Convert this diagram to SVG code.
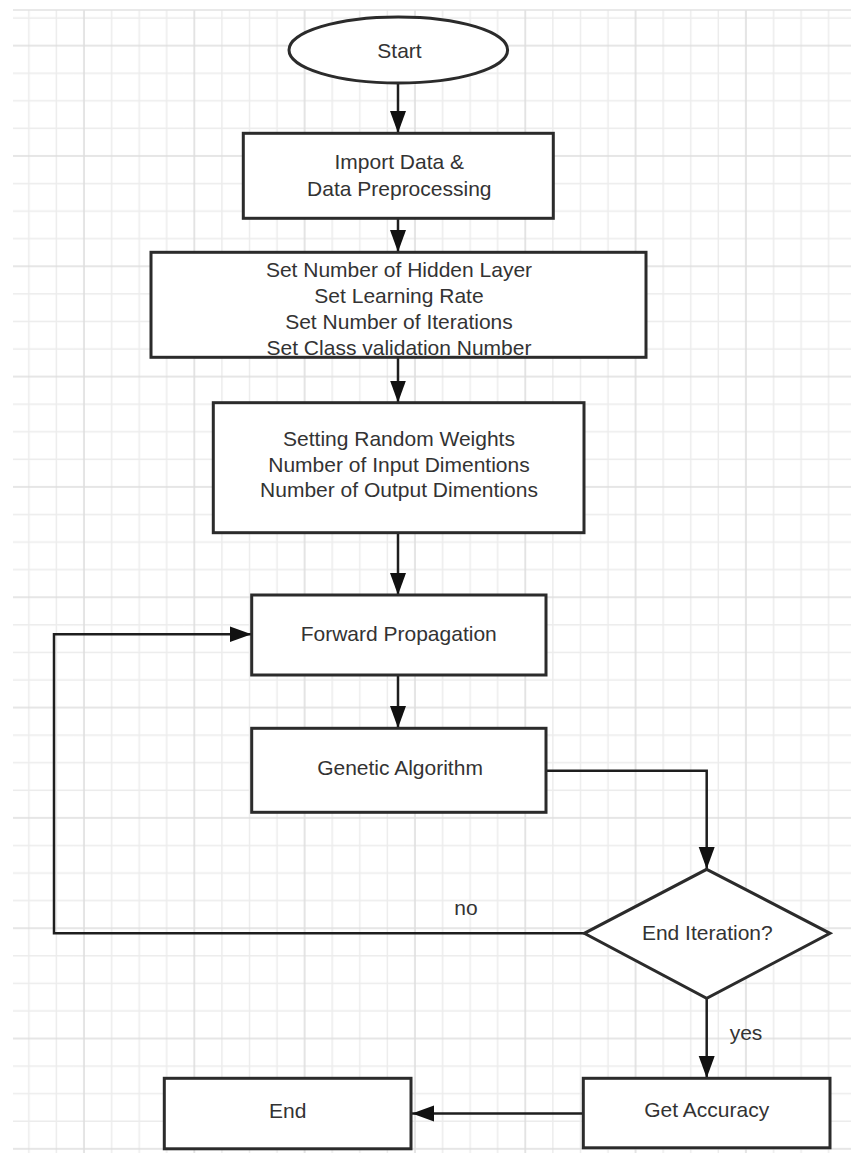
<svg xmlns="http://www.w3.org/2000/svg" width="851" height="1153" viewBox="0 0 851 1153">
  <style>
    .box { fill: #ffffff; stroke: #2b2b2b; stroke-width: 3; }
    .lbl { font-family: "Liberation Sans", Arial, sans-serif; font-size: 21px; fill: #333333; text-anchor: middle; }
    .edge { fill: none; stroke: #1e1e1e; stroke-width: 2.5; }
  </style>
  <defs>
    <marker id="arrow" markerUnits="userSpaceOnUse" markerWidth="24" markerHeight="18" refX="22" refY="8" orient="auto">
      <path d="M0,0 L22,8 L0,16 Z" fill="#111111"/>
    </marker>
    <pattern id="grid" patternUnits="userSpaceOnUse" x="74" y="35.7" width="110.32" height="110.32">
      <g stroke="#ececec" stroke-width="1.5">
        <line x1="37.58" y1="0" x2="37.58" y2="110.32"/>
        <line x1="65.16" y1="0" x2="65.16" y2="110.32"/>
        <line x1="92.74" y1="0" x2="92.74" y2="110.32"/>
        <line x1="0" y1="37.58" x2="110.32" y2="37.58"/>
        <line x1="0" y1="65.16" x2="110.32" y2="65.16"/>
        <line x1="0" y1="92.74" x2="110.32" y2="92.74"/>
      </g>
      <g stroke="#dedede" stroke-width="1.6">
        <line x1="10" y1="0" x2="10" y2="110.32"/>
        <line x1="0" y1="10" x2="110.32" y2="10"/>
      </g>
    </pattern>
  </defs>

  <rect x="0" y="0" width="851" height="1153" fill="#ffffff"/>
  <rect x="13" y="10" width="838" height="1143" fill="url(#grid)"/>
  <line x1="13" y1="10" x2="851" y2="10" stroke="#e2e2e2" stroke-width="1.5"/>

  <g id="connectors">
    <line class="edge" x1="398" y1="83" x2="398" y2="133" marker-end="url(#arrow)"/>
    <line class="edge" x1="398" y1="218" x2="398" y2="252" marker-end="url(#arrow)"/>
    <line class="edge" x1="398" y1="357" x2="398" y2="402.5" marker-end="url(#arrow)"/>
    <line class="edge" x1="398" y1="533" x2="398" y2="595" marker-end="url(#arrow)"/>
    <line class="edge" x1="398" y1="675" x2="398" y2="728" marker-end="url(#arrow)"/>
    <path class="edge" d="M546,770.7 H706.7 V869" marker-end="url(#arrow)"/>
    <path class="edge" d="M584.3,933.3 H54 V634.3 H251.5" marker-end="url(#arrow)"/>
    <line class="edge" x1="706.7" y1="998" x2="706.7" y2="1078" marker-end="url(#arrow)"/>
    <line class="edge" x1="583.3" y1="1113.5" x2="412" y2="1113.5" marker-end="url(#arrow)"/>
    <text class="lbl" x="466" y="915">no</text>
    <text class="lbl" x="746" y="1040">yes</text>
  </g>

  <g id="start">
    <ellipse class="box" cx="398.3" cy="50" rx="109.3" ry="33"/>
    <text class="lbl" x="399.5" y="57.5">Start</text>
  </g>

  <g id="import">
    <rect class="box" x="243.3" y="133.3" width="310" height="85"/>
    <text class="lbl" x="399.3" y="169">Import Data &amp;</text>
    <text class="lbl" x="399.3" y="196">Data Preprocessing</text>
  </g>

  <g id="params">
    <rect class="box" x="151" y="252.3" width="495" height="105"/>
    <text class="lbl" x="399" y="277">Set Number of Hidden Layer</text>
    <text class="lbl" x="399" y="303">Set Learning Rate</text>
    <text class="lbl" x="399" y="328.5">Set Number of Iterations</text>
    <text class="lbl" x="399" y="354.5">Set Class validation Number</text>
  </g>

  <g id="weights">
    <rect class="box" x="213.3" y="402.7" width="370.7" height="130"/>
    <text class="lbl" x="399" y="446">Setting Random Weights</text>
    <text class="lbl" x="399" y="471.5">Number of Input Dimentions</text>
    <text class="lbl" x="399" y="497">Number of Output Dimentions</text>
  </g>

  <g id="forward">
    <rect class="box" x="251.7" y="595" width="294.3" height="80"/>
    <text class="lbl" x="398.7" y="641">Forward Propagation</text>
  </g>

  <g id="genetic">
    <rect class="box" x="251.7" y="728.3" width="294.3" height="84"/>
    <text class="lbl" x="400" y="775">Genetic Algorithm</text>
  </g>

  <g id="decision">
    <polygon class="box" points="706.7,869.3 830,933.3 706.7,998.3 584.3,933.3"/>
    <text class="lbl" x="707.3" y="940">End Iteration?</text>
  </g>

  <g id="accuracy">
    <rect class="box" x="583.3" y="1078.3" width="246.7" height="69.5"/>
    <text class="lbl" x="706.7" y="1117">Get Accuracy</text>
  </g>

  <g id="end">
    <rect class="box" x="164.3" y="1078.3" width="246.7" height="70.5"/>
    <text class="lbl" x="287.7" y="1118">End</text>
  </g>
</svg>
